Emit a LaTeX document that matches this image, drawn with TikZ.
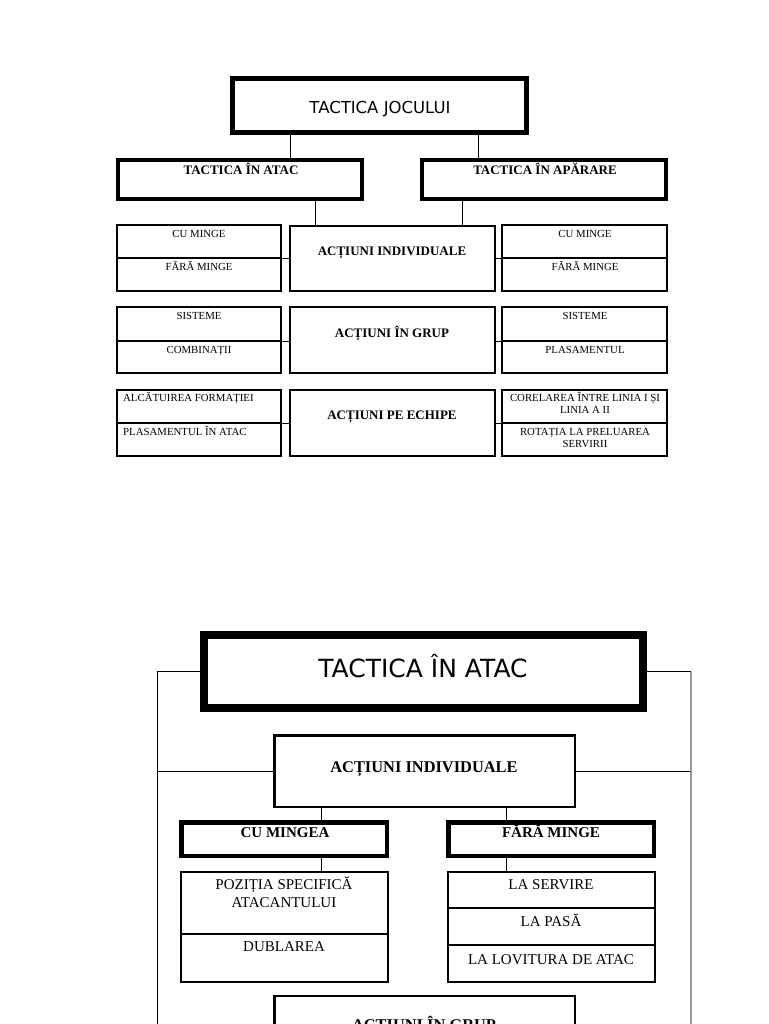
\documentclass[tikz,border=0pt]{standalone}
\usepackage{fontspec}
\setmainfont{Liberation Serif}
\newfontfamily\sansf{DejaVu Sans}
\begin{document}
\begin{tikzpicture}[x=1pt,y=-1pt,
  box/.style={draw, rectangle, inner sep=0pt},
  cell/.style={box, line width=1.3pt, minimum height=33pt},
  ctr/.style={box, line width=2.2pt, minimum width=205pt, minimum height=65pt},
  lst/.style={box, line width=2pt, minimum width=207pt},
  txt/.style={inner sep=0pt, anchor=base},
  sm/.style={txt, font=\fontsize{10.8}{11.5}\selectfont},
  mid/.style={txt, font=\fontsize{13}{15}\selectfont\bfseries},
  big/.style={txt, font=\fontsize{15}{18}\selectfont},
  ln/.style={line width=1pt}]
\useasboundingbox (0,0) rectangle (768,1024);
\clip (0,0) rectangle (768,1024);
% ---------- top chart ----------
\node[box, line width=5pt, minimum width=294pt, minimum height=54pt] (tj) at (379.5,105.5) {};
\node[txt, font=\sansf\fontsize{16.5}{19}\selectfont] (tjt) at (380,114) {TACTICA JOCULUI};
\node[box, line width=4pt, minimum width=244pt, minimum height=39pt] (ta) at (240,179.5) {};
\node[box, line width=4pt, minimum width=244pt, minimum height=39pt] (tp) at (544,179.5) {};
\node[mid] (tat) at (241,174.5) {TACTICA ÎN ATAC};
\node[mid] (tpt) at (545,174.5) {TACTICA ÎN APĂRARE};
% center boxes
\node[ctr] (ai1) at (392.5,258.5) {};
\node[ctr, minimum height=66pt] (ai2) at (392.5,340) {};
\node[ctr, minimum height=66pt] (ai3) at (392.5,423) {};
\node[mid] (ai1t) at (392,255.3) {ACȚIUNI INDIVIDUALE};
\node[mid] (ai2t) at (392,337.3) {ACȚIUNI ÎN GRUP};
\node[mid] (ai3t) at (392,419.3) {ACȚIUNI PE ECHIPE};
% left cells
\node[cell, minimum width=164pt] (l1) at (199,241.5) {};
\node[cell, minimum width=164pt] (l2) at (199,274.5) {};
\node[cell, minimum width=164pt, minimum height=34pt] (l3) at (199,324) {};
\node[cell, minimum width=164pt, minimum height=32pt] (l4) at (199,357) {};
\node[cell, minimum width=164pt] (l5) at (199,406.5) {};
\node[cell, minimum width=164pt] (l6) at (199,439.5) {};
% right cells
\node[cell, minimum width=165pt] (r1) at (584.5,241.5) {};
\node[cell, minimum width=165pt] (r2) at (584.5,274.5) {};
\node[cell, minimum width=165pt, minimum height=34pt] (r3) at (584.5,324) {};
\node[cell, minimum width=165pt, minimum height=32pt] (r4) at (584.5,357) {};
\node[cell, minimum width=165pt] (r5) at (584.5,406.5) {};
\node[cell, minimum width=165pt] (r6) at (584.5,439.5) {};
% cell texts
\node[sm] (l1t) at (199,237.6) {CU MINGE};
\node[sm] (l2t) at (199,270.6) {FĂRĂ MINGE};
\node[sm] (l3t) at (199,319.6) {SISTEME};
\node[sm] (l4t) at (199,353.6) {COMBINAȚII};
\node[sm, anchor=base west] (l5t) at (123,401.6) {ALCĂTUIREA FORMAȚIEI};
\node[sm, anchor=base west] (l6t) at (123,435.6) {PLASAMENTUL ÎN ATAC};
\node[sm] (r1t) at (585,237.6) {CU MINGE};
\node[sm] (r2t) at (585,270.6) {FĂRĂ MINGE};
\node[sm] (r3t) at (585,319.6) {SISTEME};
\node[sm] (r4t) at (585,353.6) {PLASAMENTUL};
\node[sm, align=center] (r5t) at (585,413.1) {CORELAREA ÎNTRE LINIA I ȘI\\LINIA A II};
\node[sm, align=center] (r6t) at (585,447.1) {ROTAȚIA LA PRELUAREA\\SERVIRII};
% top connectors
\coordinate (x290) at (290,0);
\coordinate (x478) at (478,0);
\coordinate (x315) at (315,0);
\coordinate (x462) at (462,0);
\draw[ln] (x290 |- tj.south) -- (x290 |- ta.north);
\draw[ln] (x478 |- tj.south) -- (x478 |- tp.north);
\draw[ln] (x315 |- ta.south) -- (x315 |- ai1.north);
\draw[ln] (x462 |- tp.south) -- (x462 |- ai1.north);
\foreach \a/\b in {l1/ai1, l3/ai2, l5/ai3}
  \draw[ln] (\a.south east) -- (\a.south east -| \b.west);
\foreach \a/\b in {r1/ai1, r3/ai2, r5/ai3}
  \draw[ln] (\a.south west) -- (\a.south west -| \b.east);
% ---------- bottom chart ----------
\node[box, line width=8pt, minimum width=439pt, minimum height=73pt] (tia) at (423.5,671.5) {};
\node[txt, font=\sansf\fontsize{25}{30}\selectfont] (tiat) at (423,677) {TACTICA ÎN ATAC};
\node[box, line width=2.5pt, minimum width=300.5pt, minimum height=71.5pt] (ai) at (424.5,771) {};
\node[txt, font=\fontsize{16.4}{19}\selectfont\bfseries] (ait) at (424,772.4) {ACȚIUNI INDIVIDUALE};
\node[box, line width=4.5pt, minimum width=205.5pt, minimum height=33.5pt] (cm) at (284,839) {};
\node[box, line width=4.5pt, minimum width=205.5pt, minimum height=33.5pt] (fm) at (551,839) {};
\node[txt, font=\fontsize{15}{18}\selectfont\bfseries] (cmt) at (285,837) {CU MINGEA};
\node[txt, font=\fontsize{15}{18}\selectfont\bfseries] (fmt) at (551,837) {FĂRĂ MINGE};
\node[lst, minimum height=62pt] (p1) at (284.5,903) {};
\node[lst, minimum height=48pt] (p2) at (284.5,958) {};
\node[lst, minimum height=36pt] (s1) at (551.5,890) {};
\node[lst, minimum height=37pt] (s2) at (551.5,926.5) {};
\node[lst, minimum height=37pt] (s3) at (551.5,963.5) {};
\node[big, align=center] (p1t) at (284,907) {POZIȚIA SPECIFICĂ\\ATACANTULUI};
\node[big] (p2t) at (284,951) {DUBLAREA};
\node[big] (s1t) at (551,889) {LA SERVIRE};
\node[big] (s2t) at (551,926) {LA PASĂ};
\node[big] (s3t) at (551,964) {LA LOVITURA DE ATAC};
\node[box, line width=2.5pt, minimum width=300.5pt, minimum height=80pt] (ag) at (424.5,1036) {};
\node[txt, font=\fontsize{16.4}{19}\selectfont\bfseries] (agt) at (424,1030) {ACȚIUNI ÎN GRUP};
% bottom connectors
\coordinate (x321) at (321,0);
\coordinate (x506) at (506,0);
\coordinate (bl) at (157,1030);
\coordinate (br) at (691,1030);
\draw[ln] (x321 |- ai.south) -- (x321 |- cm.north);
\draw[ln] (x506 |- ai.south) -- (x506 |- fm.north);
\draw[ln] (x321 |- cm.south) -- (x321 |- p1.north);
\draw[ln] (x506 |- fm.south) -- (x506 |- s1.north);
\draw[ln] (tia.west) -| (bl);
\draw[ln] (ai.west) -- (ai.west -| bl);
\draw[ln] (tia.east) -- (tia.east -| br);
\draw[ln] (ai.east) -- (ai.east -| br);
\draw[line width=1.5pt, black!40] (tia.east -| br) -- (br);
\end{tikzpicture}
\end{document}
